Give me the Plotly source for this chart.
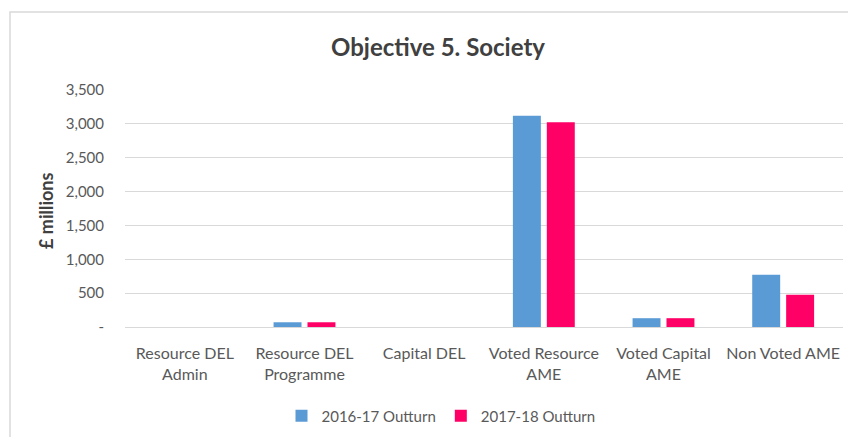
import plotly.graph_objects as go

categories = ["Resource DEL<br>Admin", "Resource DEL<br>Programme", "Capital DEL",
              "Voted Resource<br>AME", "Voted Capital<br>AME", "Non Voted AME"]
series_2016 = [0, 70, 0, 3120, 130, 770]
series_2017 = [0, 70, 0, 3025, 130, 475]
y_tickvals = [0, 500, 1000, 1500, 2000, 2500, 3000, 3500]
y_ticktext = ["-", "500", "1,000", "1,500", "2,000", "2,500", "3,000", "3,500"]

FONT = "Lato"
TXT = "#595959"

fig = go.Figure()
fig.add_trace(go.Bar(name="2016-17 Outturn", x=categories, y=series_2016,
                     marker=dict(color="#5B9BD5", line=dict(width=0))))
fig.add_trace(go.Bar(name="2017-18 Outturn", x=categories, y=series_2017,
                     marker=dict(color="#FF0066", line=dict(width=0))))

fig.update_layout(
    width=848, height=437,
    margin=dict(l=125, r=5, t=90, b=110, autoexpand=False),
    paper_bgcolor="white", plot_bgcolor="white",
    barmode="group", bargap=0.433, bargroupgap=0.176,
    font=dict(family=FONT, color=TXT, size=15),
    title=dict(text="<b>Objective 5. Society</b>", x=438/848, xanchor="center",
               y=1 - 48/437, yanchor="middle",
               font=dict(family=FONT, size=24, color="#404040")),
    legend=dict(orientation="h", x=(441 - 125) / 718, xanchor="center",
                y=(327 - 416) / 237, yanchor="middle",
                font=dict(family=FONT, size=15, color=TXT),
                itemwidth=30, tracegroupgap=0, bgcolor="rgba(0,0,0,0)"),
    showlegend=True,
)
fig.update_xaxes(showgrid=False, showline=True, linecolor="#d9d9d9", linewidth=1,
                 ticks="", tickfont=dict(family=FONT, size=16, color=TXT),
                 ticklabelstandoff=12)
fig.update_yaxes(range=[0, 3500], tickvals=y_tickvals, ticktext=y_ticktext,
                 showgrid=True, gridcolor="#d9d9d9", gridwidth=1,
                 showline=False, zeroline=False, ticks="",
                 tickfont=dict(family=FONT, size=15, color=TXT),
                 ticklabelstandoff=20)
fig.add_annotation(text="<b>£ millions</b>", xref="paper", yref="paper",
                   x=(46 - 125) / 718, y=(327 - 211) / 237, xanchor="center", yanchor="middle",
                   textangle=-90, showarrow=False,
                   font=dict(family=FONT, size=18, color="#404040"))
# chart frame (left and top edges visible)
fig.add_shape(type="rect", xref="paper", yref="paper",
              x0=(10 - 125) / 718, x1=(870 - 125) / 718,
              y0=(327 - 450) / 237, y1=(327 - 12) / 237,
              line=dict(color="#d9d9d9", width=1.5), fillcolor="rgba(0,0,0,0)", layer="below")

fig.write_html("out.html", config={"displayModeBar": False},
               post_script="document.body.style.margin='0';document.body.style.overflow='hidden';")
